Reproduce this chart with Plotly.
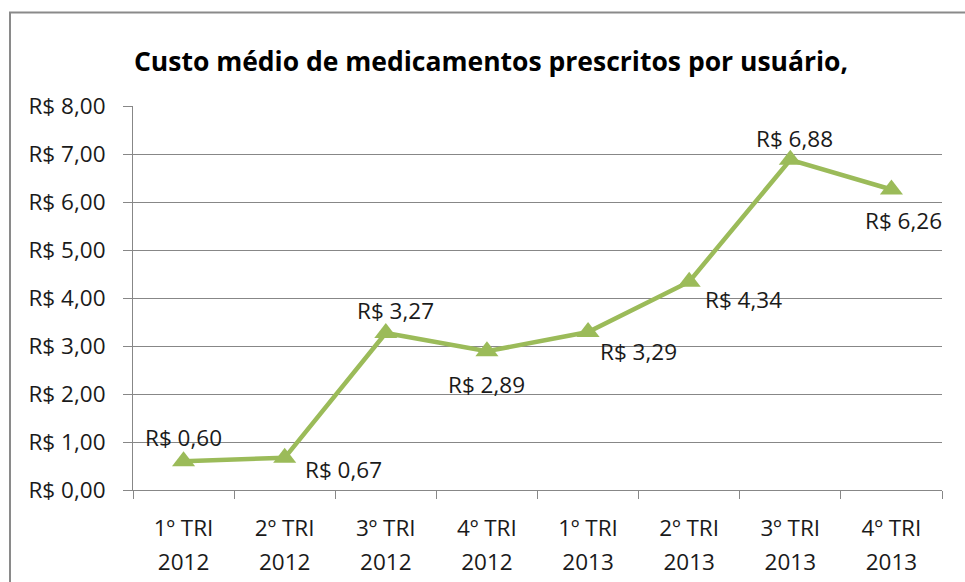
import plotly.graph_objects as go

categories = ["1º TRI", "2º TRI", "3º TRI", "4º TRI", "1º TRI", "2º TRI", "3º TRI", "4º TRI"]
years = ["2012", "2012", "2012", "2012", "2013", "2013", "2013", "2013"]
values = [0.60, 0.67, 3.27, 2.89, 3.29, 4.34, 6.88, 6.26]
y_ticks = [0, 1, 2, 3, 4, 5, 6, 7, 8]
title = "Custo médio de medicamentos prescritos por usuário,"

def brl(v):
    return "R$ " + f"{v:.2f}".replace(".", ",")

keys = [f"{c} {y}" for c, y in zip(categories, years)]

# label placement styles (xanchor, xshift, yshift)
label_styles = [("center", 0, 24), ("left", 18, -12), ("center", 10, 23), ("center", 0, -33),
                ("left", 10, -19), ("left", 14, -18), ("center", 4, 21), ("center", 12, -31)]

FONT = "Open Sans"
GREEN = "#9BBB59"
GRID = "#878787"
TXT = "#1a1a1a"
FS = 22.5

fig = go.Figure()
fig.add_trace(go.Scatter(
    x=keys, y=values, mode="lines+markers",
    line=dict(color=GREEN, width=4.5),
    marker=dict(symbol="triangle-up", size=20, color=GREEN),
    hoverinfo="skip", showlegend=False,
))
# invisible trace on the second x axis to carry the year labels
fig.add_trace(go.Scatter(x=keys, y=values, xaxis="x2", mode="none", showlegend=False, hoverinfo="skip"))

annotations = []
for k, v, (xa, xs, ys) in zip(keys, values, label_styles):
    annotations.append(dict(x=k, y=v, xref="x", yref="y", text=brl(v), showarrow=False,
                            xanchor=xa, yanchor="middle", xshift=xs, yshift=ys,
                            font=dict(family=FONT, size=FS, color=TXT)))

L, R, T, B = 133, 23, 106, 92
W, H = 965, 582
pw, ph = W - L - R, H - T - B

fig.update_layout(
    width=W, height=H,
    margin=dict(l=L, r=R, t=T, b=B, autoexpand=False),
    paper_bgcolor="white", plot_bgcolor="white",
    title=dict(text="<b>" + title + "</b>", x=491 / W, xanchor="center", y=1 - 62 / H, yanchor="middle",
               font=dict(family=FONT, size=26.5, color="black"), automargin=False),
    xaxis=dict(type="category", categoryorder="array", categoryarray=keys,
               tickvals=keys, ticktext=categories, tickson="boundaries", automargin=False,
               ticks="outside", ticklen=8, tickcolor=GRID, showline=True, linecolor=GRID, linewidth=1,
               showgrid=False, tickfont=dict(family=FONT, size=FS, color=TXT), ticklabelstandoff=18,
               range=[-0.5, 7.5], zeroline=False),
    xaxis2=dict(type="category", categoryorder="array", categoryarray=keys, overlaying="x", side="bottom",
                tickvals=keys, ticktext=years, ticks="", showline=False, showgrid=False, automargin=False,
                tickfont=dict(family=FONT, size=FS, color=TXT), ticklabelstandoff=56,
                range=[-0.5, 7.5], zeroline=False),
    yaxis=dict(range=[0, 8], tickvals=y_ticks, ticktext=[brl(v) for v in y_ticks], automargin=False,
               ticks="outside", ticklen=9, tickcolor=GRID, showline=True, linecolor=GRID,
               showgrid=True, gridcolor=GRID, gridwidth=1, zeroline=False,
               tickfont=dict(family=FONT, size=FS, color=TXT), ticklabelstandoff=13),
    annotations=annotations,
    shapes=[dict(type="rect", xref="paper", yref="paper",
                 x0=(10 - L) / pw, x1=(1000 - L) / pw, y0=(H - B - 620) / ph, y1=(H - B - 12.5) / ph,
                 line=dict(color="#8a8a8a", width=2), fillcolor="rgba(0,0,0,0)", layer="below")],
)

fig.write_html("out.html", config={"displayModeBar": False},
               post_script="document.body.style.margin='0px';document.body.style.overflow='hidden';")
